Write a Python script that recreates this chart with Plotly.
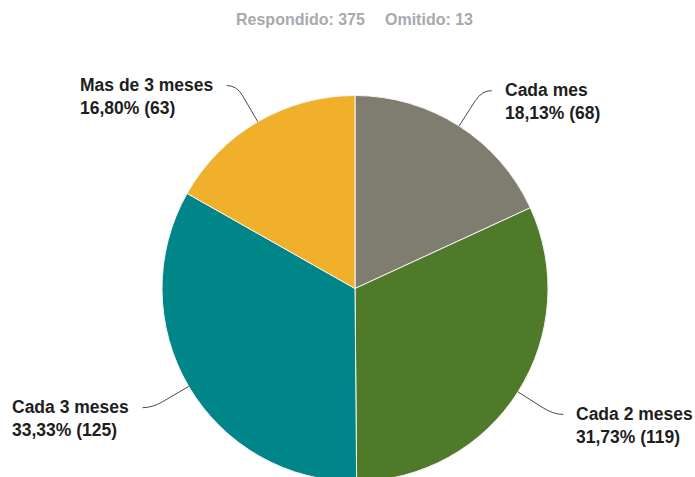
import math
import plotly.graph_objects as go

# Survey answers: how often
categories = ["Cada mes", "Cada 2 meses", "Cada 3 meses", "Mas de 3 meses"]
counts = [68, 119, 125, 63]
slice_colors = ["#7f7d6f", "#4f7a29", "#008688", "#f0b02c"]
answered = 375
skipped = 13

W, H = 695, 500
CX, CY, R = 355.0, 288.5, 193.0   # pie centre / radius in px
FONT = "Liberation Sans, Arial, sans-serif"


def px(x):
    return x / W


def py(y):
    return 1 - y / H


fig = go.Figure(
    go.Pie(
        labels=categories,
        values=counts,
        sort=False,
        direction="clockwise",
        rotation=0,
        textinfo="none",
        hoverinfo="label+value+percent",
        marker=dict(colors=slice_colors, line=dict(color="#f4f4f4", width=1)),
        domain=dict(x=[px(CX - R), px(CX + R)], y=[py(CY + R), py(CY - R)]),
        showlegend=False,
    )
)

total = sum(counts)
shapes = []
annotations = []
cum = 0
for name, v in zip(categories, counts):
    mid = (cum + v / 2) / total * 2 * math.pi
    cum += v
    sx, sy = math.sin(mid), -math.cos(mid)
    side = 1 if sx >= 0 else -1
    p0 = (CX + R * sx, CY + R * sy)
    p1 = (CX + (R + 30) * sx, CY + (R + 30) * sy)
    corner = (CX + (R + 42) * sx, CY + (R + 42) * sy)
    end = (corner[0] + side * 10, corner[1])
    path = (
        f"M {px(p0[0])},{py(p0[1])} L {px(p1[0])},{py(p1[1])} "
        f"Q {px(corner[0])},{py(corner[1])} {px(end[0])},{py(end[1])}"
    )
    shapes.append(
        dict(type="path", path=path, xref="paper", yref="paper",
             line=dict(color="#4a4a4a", width=1))
    )
    pct = f"{v / total * 100:.2f}".replace(".", ",")
    annotations.append(
        dict(
            text=f"<b>{name}<br>{pct}% ({v})</b>",
            xref="paper", yref="paper",
            x=px(end[0] + side * 11), y=py(end[1] + 11),
            xanchor="left" if side > 0 else "right",
            yanchor="middle", align="left", showarrow=False,
            font=dict(family=FONT, size=17.5, color="#1e1e1e"),
        )
    )

header_font = dict(family=FONT, size=16, color="#a7a9ad")
annotations.append(dict(text=f"<b>Respondido: {answered}</b>", xref="paper", yref="paper",
                        x=px(234), y=py(19), xanchor="left", yanchor="middle",
                        showarrow=False, font=header_font))
annotations.append(dict(text=f"<b>Omitido: {skipped}</b>", xref="paper", yref="paper",
                        x=px(383), y=py(19), xanchor="left", yanchor="middle",
                        showarrow=False, font=header_font))

fig.update_layout(
    width=W, height=H,
    margin=dict(l=0, r=0, t=0, b=0),
    paper_bgcolor="white", plot_bgcolor="white",
    shapes=shapes, annotations=annotations,
)

fig.write_html(
    "out.html",
    config={"displayModeBar": False},
    post_script="document.body.style.margin='0';document.body.style.overflow='hidden';"
                "document.documentElement.style.overflow='hidden';",
)
